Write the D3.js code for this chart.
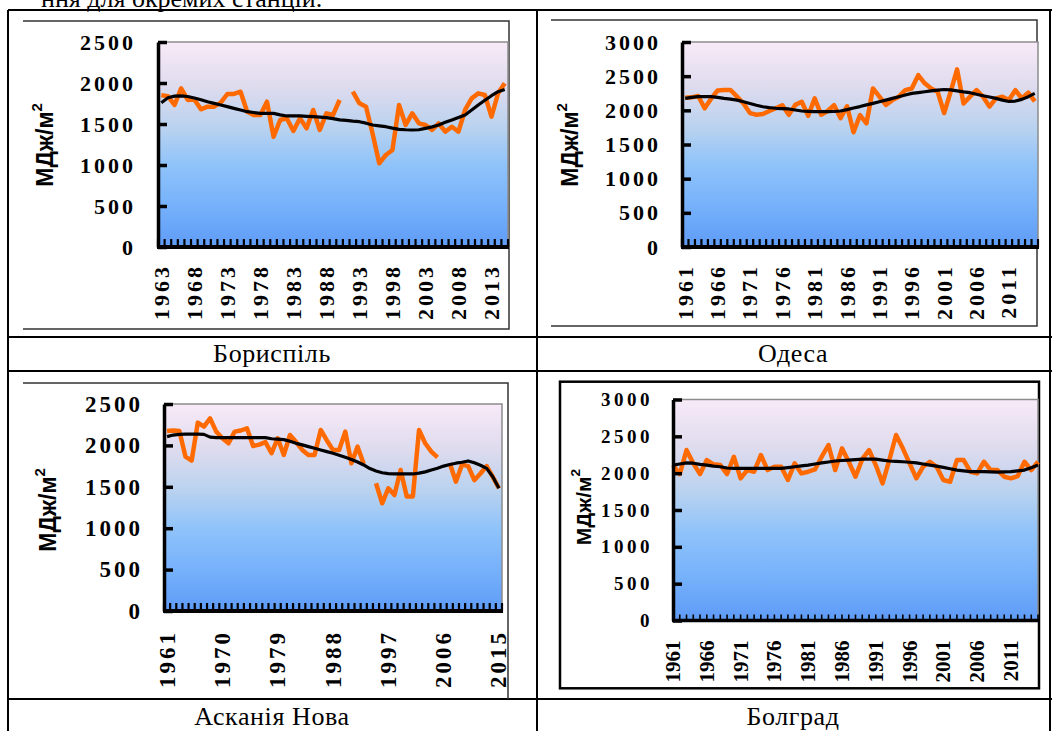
<!DOCTYPE html>
<html><head><meta charset="utf-8">
<script src="https://cdn.jsdelivr.net/npm/d3@7"></script>
<style>body{margin:0;background:#fff;overflow:hidden} svg{display:block}</style>
</head><body>
<svg id="c" width="1052" height="731"></svg>
<script>
// ---------------- DATA ----------------
const boryspilYears = [1963, 2015];
const boryspilValues = [1850,1840,1732,1935,1793,1800,1679,1711,1711,1760,1866,1866,1894,1650,1610,1610,1772,1345,1549,1570,1415,1570,1447,1671,1427,1630,1610,1793,null,1894,1752,1711,1380,1020,1122,1183,1732,1488,1630,1508,1488,1427,1508,1406,1467,1406,1671,1813,1874,1854,1589,1874,1996];
const boryspilTrend = [1760,1820,1840,1842,1835,1817,1795,1772,1752,1732,1712,1691,1670,1650,1640,1630,1630,1630,1612,1598,1598,1598,1594,1589,1584,1578,1565,1550,1545,1535,1528,1510,1488,1477,1467,1450,1435,1430,1427,1430,1447,1465,1488,1520,1550,1580,1610,1670,1732,1790,1845,1894,1920];
const boryspilTickLabels = ["1963","1968","1973","1978","1983","1988","1993","1998","2003","2008","2013"];

const odesaYears = [1961, 2015];
const odesaValues = [2185,2190,2210,2030,2170,2290,2297,2297,2200,2100,1960,1935,1945,1990,2030,2075,1935,2080,2125,1920,2175,1935,1990,2075,1885,2060,1680,1930,1810,2320,2200,2080,2150,2200,2295,2320,2515,2395,2320,2270,1960,2270,2600,2100,2200,2295,2200,2055,2175,2200,2150,2295,2175,2260,2130];
const odesaTrend = [2175,2190,2200,2200,2200,2190,2175,2165,2150,2125,2100,2075,2053,2040,2030,2025,2020,2005,1990,1985,1980,1980,1980,1983,1990,2010,2035,2055,2080,2102,2125,2150,2175,2199,2225,2248,2260,2272,2285,2297,2305,2300,2285,2270,2258,2235,2214,2195,2175,2150,2130,2136,2160,2200,2248];
const odesaTickLabels = ["1961","1966","1971","1976","1981","1986","1991","1996","2001","2006","2011"];

const askaniaYears = [1961, 2015];
const askaniaValues = [2174,2180,2174,1864,1816,2275,2226,2327,2166,2086,2026,2166,2180,2207,1993,2010,2040,1905,2086,1885,2126,2040,1945,1885,1885,2187,2060,1945,1945,2166,1784,1985,1776,null,1543,1301,1482,1400,1703,1384,1384,2187,2026,1925,1856,null,1784,1562,1768,1750,1580,1660,1750,1620,1482];
const askaniaTrend = [2106,2125,2133,2135,2135,2135,2133,2100,2095,2093,2093,2093,2093,2093,2093,2093,2093,2080,2075,2070,2050,2025,2006,1985,1965,1945,1925,1905,1880,1856,1830,1800,1764,1720,1690,1670,1660,1655,1655,1655,1655,1665,1680,1703,1725,1750,1770,1785,1796,1812,1790,1760,1723,1622,1482];
const askaniaTickLabels = ["1961","1970","1979","1988","1997","2006","2015"];

const bolhradYears = [1961, 2015];
const bolhradValues = [2110,1988,2314,2133,1988,2178,2120,2110,1988,2223,1930,2042,2020,2246,2042,2087,2087,1907,2133,1997,2020,2050,2223,2382,2042,2337,2155,1952,2190,2314,2110,1862,2178,2518,2337,2133,1930,2087,2155,2087,1907,1884,2178,2178,2020,1997,2155,2042,2042,1952,1930,1960,2155,2042,2155];
const bolhradTrend = [2110,2125,2140,2135,2120,2110,2095,2087,2070,2065,2065,2065,2065,2065,2065,2065,2065,2075,2087,2100,2110,2125,2140,2152,2165,2172,2178,2185,2190,2190,2190,2178,2165,2160,2155,2148,2140,2125,2110,2095,2078,2060,2042,2030,2020,2020,2020,2017,2015,2017,2020,2030,2042,2075,2110];
const bolhradTickLabels = ["1961","1966","1971","1976","1981","1986","1991","1996","2001","2006","2011"];

const yTicks2500 = [0,500,1000,1500,2000,2500];
const yTicks3000 = [0,500,1000,1500,2000,2500,3000];
const captions = ["Бориспіль","Одеса","Асканія Нова","Болград"];
const yTitle = "МДж/м";
const headerText = "ння для окремих станцій.";

// ---------------- LAYOUT ----------------
const serif = '"Liberation Serif","Times New Roman",serif';
const sans = '"Liberation Sans",Arial,sans-serif';
const svg = d3.select('#c');
const defs = svg.append('defs');
const grad = defs.append('linearGradient').attr('id','bg').attr('x1',0).attr('y1',0).attr('x2',0).attr('y2',1);
[[0,'#f8eaf8'],[0.22,'#dedbee'],[0.42,'#b9d2ef'],[0.6,'#8fc3fa'],[0.8,'#76b1fb'],[1,'#5e9bf6']]
  .forEach(([o,c])=>grad.append('stop').attr('offset',o).attr('stop-color',c));

// header (cut off at top, as in the source page)
svg.append('text').attr('x',41).attr('y',7).attr('font-family',serif).attr('font-size',26).text(headerText);

// table lines
const tbl = svg.append('g').attr('stroke','#000').attr('stroke-width',2);
[10,337,371,699].forEach(yy=>tbl.append('line').attr('x1',8).attr('x2',1052).attr('y1',yy).attr('y2',yy));
[8,537,1050].forEach(xx=>tbl.append('line').attr('x1',xx).attr('x2',xx).attr('y1',10).attr('y2',731));

// captions
const capPos = [[272,362],[793,362],[272,725],[793,725]];
captions.forEach((c,i)=>svg.append('text').attr('x',capPos[i][0]).attr('y',capPos[i][1])
  .attr('text-anchor','middle').attr('font-family',serif).attr('font-size',26).attr('letter-spacing',0.6).text(c));

function drawPanel(p){
  const g = svg.append('g');
  if (p.frameRect) {
    g.append('rect').attr('x',p.frameRect[0]).attr('y',p.frameRect[1]).attr('width',p.frameRect[2]-p.frameRect[0])
      .attr('height',p.frameRect[3]-p.frameRect[1]).attr('fill','none').attr('stroke','#000').attr('stroke-width',2.5);
  } else {
    g.append('path').attr('d',p.framePath).attr('fill','none').attr('stroke','#333').attr('stroke-width',1.5);
  }
  const years = d3.range(p.years[0], p.years[1]+1);
  const x = p.onTick ? d3.scalePoint().domain(years).range([p.x0,p.x1])
                     : d3.scaleBand().domain(years).range([p.x0,p.x1]);
  const half = p.onTick ? 0 : x.bandwidth()/2;
  const xc = d => x(d) + half;
  const y = d3.scaleLinear().domain([0,p.ymax]).range([p.y1,p.y0]);

  g.append('rect').attr('x',p.x0).attr('y',p.y0).attr('width',p.x1-p.x0).attr('height',p.y1-p.y0).attr('fill','url(#bg)');
  g.append('path').attr('d',`M${p.x0},${p.y0}H${p.x1}V${p.y1}`).attr('fill','none').attr('stroke','#8c8c8c').attr('stroke-width',1.5);

  const line = d3.line().defined(d=>d[1]!=null).x(d=>xc(d[0])).y(d=>y(d[1]));
  g.append('path').datum(years.map((yr,i)=>[yr,p.values[i]])).attr('d',line)
    .attr('fill','none').attr('stroke','#ff6a00').attr('stroke-width',4.5).attr('stroke-linejoin','round');
  g.append('path').datum(years.map((yr,i)=>[yr,p.trend[i]])).attr('d',line)
    .attr('fill','none').attr('stroke','#000').attr('stroke-width',3.2).attr('stroke-linejoin','round');

  const tickXs = p.onTick ? years.map(d=>x(d)) : years.map(d=>x(d)).concat([p.x1]);
  g.selectAll('.xt').data(tickXs).join('line').attr('class','xt')
    .attr('x1',d=>d).attr('x2',d=>d).attr('y1',p.y1).attr('y2',p.y1-p.xTick)
    .attr('stroke','#000').attr('stroke-width',p.xTickW);
  g.append('line').attr('x1',p.x0-1).attr('x2',p.x1+1).attr('y1',p.y1).attr('y2',p.y1)
    .attr('stroke','#000').attr('stroke-width',p.xAxisW);

  const ya = g.append('g').attr('transform',`translate(${p.x0},0)`)
    .call(d3.axisLeft(y).tickValues(p.yTicks).tickFormat(d3.format('d')).tickSize(-9).tickSizeOuter(0).tickPadding(p.pad));
  ya.select('.domain').attr('stroke','#000').attr('stroke-width',3.5);
  ya.selectAll('.tick line').attr('stroke','#000').attr('stroke-width',3.5);
  ya.selectAll('.tick text').attr('font-family',serif).attr('font-weight','bold')
    .attr('font-size',p.yFont).attr('letter-spacing',p.yLs).attr('fill','#000');

  g.selectAll('.xl').data(p.xLabels).join('text').attr('class','xl')
    .attr('transform',d=>`translate(${xc(+d)},${p.y1+p.xlOff}) rotate(-90)`)
    .attr('text-anchor','end').attr('dominant-baseline','central')
    .attr('font-family',serif).attr('font-weight','bold').attr('font-size',p.xFont).attr('letter-spacing',p.xLs)
    .text(d=>d);

  const t = g.append('text').attr('transform',`translate(${p.tx},${p.ty}) rotate(-90)`)
    .attr('text-anchor','middle').attr('dominant-baseline','central')
    .attr('font-family',sans).attr('font-weight','bold').attr('font-size',p.tFont).text(yTitle);
  t.append('tspan').attr('baseline-shift','super').attr('font-size',p.tFont*0.65).text('2');
}

drawPanel({years:boryspilYears, values:boryspilValues, trend:boryspilTrend, xLabels:boryspilTickLabels, yTicks:yTicks2500,
  ymax:2500, x0:158, x1:508, y0:42, y1:247, onTick:false,
  framePath:'M23,21H509V329H23', pad:22, yFont:22, yLs:3, xFont:22, xLs:3, xlOff:17, xTick:8, xTickW:2.2, xAxisW:4,
  tx:45, ty:145, tFont:23});
drawPanel({years:odesaYears, values:odesaValues, trend:odesaTrend, xLabels:odesaTickLabels, yTicks:yTicks3000,
  ymax:3000, x0:682, x1:1038, y0:42, y1:247, onTick:false,
  framePath:'M551,20H1037V326H551', pad:21, yFont:22, yLs:3, xFont:22, xLs:3, xlOff:17, xTick:8, xTickW:2.2, xAxisW:4,
  tx:570, ty:145, tFont:23});
drawPanel({years:askaniaYears, values:askaniaValues, trend:askaniaTrend, xLabels:askaniaTickLabels, yTicks:yTicks2500,
  ymax:2500, x0:164, x1:502, y0:404, y1:611, onTick:false,
  framePath:'M23,383H508V699', pad:21, yFont:23, yLs:3, xFont:23, xLs:3, xlOff:19, xTick:8, xTickW:2.2, xAxisW:4,
  tx:48, ty:510, tFont:23});
drawPanel({years:bolhradYears, values:bolhradValues, trend:bolhradTrend, xLabels:bolhradTickLabels, yTicks:yTicks3000,
  ymax:3000, x0:673, x1:1038, y0:399.5, y1:620.5, onTick:true,
  frameRect:[560,381.7,1039,688.3], pad:20, yFont:19, yLs:3.5, xFont:21, xLs:0, xlOff:20, xTick:6, xTickW:1.6, xAxisW:3.5,
  tx:583, ty:507, tFont:21});
</script>
</body></html>
